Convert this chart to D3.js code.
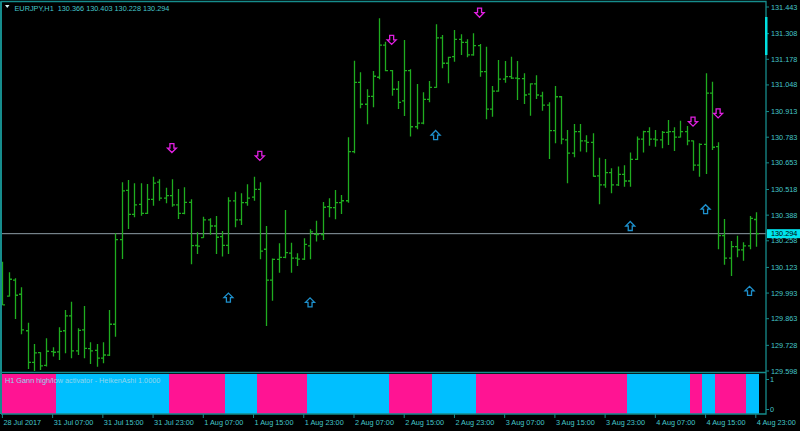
<!DOCTYPE html>
<html><head><meta charset="utf-8">
<script src="https://cdn.jsdelivr.net/npm/d3@7"></script>
<style>html,body{margin:0;padding:0;background:#000;overflow:hidden}svg{display:block}</style>
</head><body><svg id="c" width="800" height="431"></svg>
<script>
// ---------- data ----------
const symbol = "EURJPY,H1";
const lastQuote = ["130.366","130.403","130.228","130.294"];
const bidPrice = 130.294;

const opens = [130.136,129.978,130.059,129.987,129.802,129.642,129.691,129.627,129.696,129.695,
129.802,129.877,129.700,129.806,129.711,129.703,129.663,129.678,129.835,130.264,
130.514,130.392,130.443,130.397,130.468,130.555,130.474,130.487,130.440,130.397,
130.453,130.234,130.274,130.364,130.333,130.279,130.235,130.460,130.364,130.451,
130.479,130.519,130.215,130.059,130.164,130.174,130.195,130.170,130.165,130.232,
130.291,130.290,130.431,130.426,130.451,130.461,130.710,131.061,130.950,130.990,
131.087,131.250,131.120,131.026,130.967,131.120,130.836,130.854,130.975,131.036,
131.287,131.158,131.191,131.279,131.264,131.200,131.247,131.115,130.925,131.017,
131.077,131.090,131.082,131.080,131.001,131.053,130.993,130.946,130.816,130.988,
130.769,130.702,130.811,130.764,130.757,130.587,130.541,130.603,130.541,130.595,
130.561,130.671,130.773,130.811,130.773,130.769,130.808,130.811,130.783,130.811,
130.764,130.642,130.747,131.006,130.735,130.284,130.170,130.228,130.212,130.232,
130.366];
const highs = [130.152,130.098,130.068,130.022,129.843,129.735,129.693,129.764,129.718,129.820,
129.907,129.949,129.815,129.928,129.744,129.735,129.744,129.907,130.296,130.555,
130.566,130.550,130.550,130.546,130.583,130.570,130.527,130.570,130.521,130.529,
130.468,130.301,130.380,130.372,130.384,130.308,130.479,130.507,130.499,130.544,
130.583,130.555,130.333,130.168,130.245,130.414,130.248,130.195,130.271,130.316,
130.360,130.455,130.474,130.516,130.490,130.783,131.171,131.112,131.026,131.119,
131.386,131.267,131.124,131.068,131.276,131.127,131.053,131.011,131.068,131.355,
131.301,131.191,131.326,131.305,131.279,131.310,131.256,131.242,131.043,131.174,
131.169,131.191,131.169,131.107,131.056,131.097,131.014,130.960,131.043,130.992,
130.820,130.850,130.850,130.793,130.803,130.679,130.673,130.626,130.634,130.641,
130.705,130.786,130.816,130.833,130.820,130.815,130.870,130.833,130.867,130.840,
130.766,130.752,131.107,131.064,130.757,130.369,130.257,130.284,130.251,130.384,
130.403];
const lows = [129.933,129.975,129.862,129.784,129.608,129.598,129.603,129.621,129.671,129.654,
129.688,129.663,129.679,129.663,129.634,129.620,129.637,129.674,129.772,130.166,
130.318,130.377,130.385,130.394,130.436,130.461,130.448,130.431,130.369,130.392,
130.139,130.191,130.274,130.288,130.191,130.178,130.191,130.327,130.338,130.435,
130.461,130.164,129.826,129.954,130.096,130.169,130.096,130.130,130.161,130.164,
130.254,130.262,130.377,130.367,130.394,130.451,130.702,130.930,130.849,130.935,
131.077,131.117,130.993,130.926,130.891,130.786,130.823,130.849,130.960,131.034,
131.132,131.056,131.166,131.200,131.188,131.196,131.090,130.874,130.887,131.014,
131.059,131.078,130.972,130.951,130.892,130.977,130.917,130.673,130.752,130.747,
130.550,130.681,130.710,130.707,130.583,130.443,130.527,130.499,130.536,130.532,
130.532,130.668,130.705,130.740,130.735,130.727,130.744,130.713,130.781,130.742,
130.613,130.583,130.597,130.718,130.215,130.136,130.080,130.174,130.157,130.215,
130.228];
const closes = [129.933,130.063,129.982,129.806,129.642,129.690,129.624,129.698,129.693,129.799,
129.877,129.700,129.804,129.713,129.700,129.663,129.679,129.835,130.264,130.511,
130.392,130.440,130.397,130.468,130.550,130.474,130.487,130.440,130.397,130.453,
130.233,130.231,130.364,130.333,130.276,130.235,130.460,130.364,130.451,130.474,
130.519,130.206,130.059,130.164,130.174,130.198,130.170,130.165,130.240,130.303,
130.290,130.428,130.426,130.451,130.461,130.710,131.061,130.950,130.990,131.092,
131.250,131.120,131.026,130.960,131.120,130.836,130.854,130.975,131.036,131.287,
131.158,131.188,131.279,131.264,131.200,131.247,131.115,130.925,131.017,131.077,
131.090,131.082,131.080,130.997,131.053,130.997,130.946,130.816,130.988,130.773,
130.702,130.811,130.764,130.757,130.585,130.541,130.603,130.541,130.595,130.561,
130.671,130.773,130.811,130.773,130.769,130.808,130.811,130.783,130.811,130.764,
130.642,130.747,131.006,130.732,130.284,130.170,130.228,130.212,130.232,130.372,
130.294];

// Gann high/low activator state per bar: D = bearish (pink), U = bullish (blue)
const indState = ("DDDDDDDDD" + "UUUUUUUUUUUUUUUUUU" + "DDDDDDDDD" + "UUUUU" + "DDDDDDDD" +
  "UUUUUUUUUUUUU" + "DDDDDDD" + "UUUUUUU" + "DDDDDDDDDDDDDDDDDDDDDDDD" + "UUUUUUUUUU" +
  "DD" + "UU" + "DDDDD" + "UU").split("");

const downArrowBars   = [27, 41, 62, 76, 110, 114];
const downArrowPrices = [130.728, 130.688, 131.276, 131.414, 130.862, 130.904];
const upArrowBars     = [36, 49, 69, 100, 112, 119];
const upArrowPrices   = [129.970, 129.946, 130.794, 130.333, 130.418, 130.004];

const priceTicks = ["131.443","131.308","131.178","131.048","130.913","130.783","130.653","130.518",
  "130.388","130.258","130.123","129.993","129.863","129.728","129.598"];
const timeTickBars = [0,8,16,24,32,40,48,56,64,72,80,88,96,104,112,120];
const timeTickLabels = ["28 Jul 2017","31 Jul 07:00","31 Jul 15:00","31 Jul 23:00","1 Aug 07:00",
  "1 Aug 15:00","1 Aug 23:00","2 Aug 07:00","2 Aug 15:00","2 Aug 23:00","3 Aug 07:00",
  "3 Aug 15:00","3 Aug 23:00","4 Aug 07:00","4 Aug 15:00","4 Aug 23:00"];
const indLabel = "H1 Gann high/low activator - HeikenAshi 1.0000";
const indTicks = [1, 0];
const indWindow = [-0.15, 1.18];

// ---------- layout / style ----------
const L = 1, R = 766, mainTop = 1.5, mainBot = 372, indTop = 372.5, indBot = 414;
const COL = {frame:"#168c8c", text:"#44c6ca", bar:"#1fac1f", bid:"#8e9ea6",
  pink:"#ff1493", blue:"#00bfff", down:"#e020e0", up:"#1e90cc", indText:"#8fd6ee"};
const FONT = "Liberation Sans, Arial, sans-serif", FS = 7.3;

const svg = d3.select("#c");
svg.append("rect").attr("width",800).attr("height",431).attr("fill","#000");

const n = opens.length;
const x = d3.scaleLinear().domain([0, n-1]).range([2.4, 755.8]);
const y = d3.scaleLinear().domain([+priceTicks[priceTicks.length-1], +priceTicks[0]]).range([371, 7]);
const yInd = d3.scaleLinear().domain([0,1]).range([409.5, 379.5]);
const step = x(1) - x(0);

const defs = svg.append("defs");
defs.append("clipPath").attr("id","cm").append("rect")
  .attr("x",L).attr("y",mainTop).attr("width",R-L).attr("height",mainBot-mainTop);
defs.append("clipPath").attr("id","ci").append("rect")
  .attr("x",L+1).attr("y",indTop).attr("width",R-L-1).attr("height",indBot-indTop);

// indicator histogram
const gi = svg.append("g").attr("clip-path","url(#ci)").attr("shape-rendering","crispEdges");
gi.selectAll("rect").data(indState).join("rect")
  .attr("x",(d,i)=>Math.round(x(i)-step/2)).attr("width",(d,i)=>Math.round(x(i)+step/2)-Math.round(x(i)-step/2))
  .attr("y",yInd(indWindow[1])).attr("height",yInd(indWindow[0])-yInd(indWindow[1]))
  .attr("fill",d=>d==="D"?COL.pink:COL.blue);
svg.append("text").attr("x",5).attr("y",383).attr("font-family",FONT).attr("font-size",FS)
  .attr("fill",COL.indText).text(indLabel);

// main panel
const gm = svg.append("g").attr("clip-path","url(#cm)");
gm.append("line").attr("x1",L).attr("x2",R).attr("y1",y(bidPrice)).attr("y2",y(bidPrice))
  .attr("stroke",COL.bid).attr("stroke-width",1);

const idx = d3.range(n);
const gb = gm.append("g").attr("stroke",COL.bar).attr("stroke-width",1.3).attr("fill","none");
gb.selectAll("path").data(idx).join("path")
  .attr("d", i => {
    const cx = Math.round(x(i)) + 0.5;
    return `M${cx},${y(highs[i])}V${y(lows[i])}` +
      `M${cx-2.5},${y(opens[i])}H${cx}` +
      `M${cx},${y(closes[i])}H${cx+2.5}`;
  });

const downPath = "M-2,-4.5H2V0H4.5L0,4.5L-4.5,0H-2Z";
const upPath = "M-2,4.5H2V0H4.5L0,-4.5L-4.5,0H-2Z";
gm.selectAll("path.dn").data(downArrowBars).join("path").attr("class","dn")
  .attr("transform",(b,k)=>`translate(${x(b)},${y(downArrowPrices[k])})`)
  .attr("d",downPath).attr("fill","none").attr("stroke",COL.down).attr("stroke-width",1.3);
gm.selectAll("path.upa").data(upArrowBars).join("path").attr("class","upa")
  .attr("transform",(b,k)=>`translate(${x(b)},${y(upArrowPrices[k])})`)
  .attr("d",upPath).attr("fill","none").attr("stroke",COL.up).attr("stroke-width",1.3);

// frames
const fr = svg.append("g").attr("stroke",COL.frame).attr("fill","none");
fr.append("path").attr("d",`M${L},${indBot}V${mainTop}H${R}V${indBot}H${L}`).attr("stroke-width",1.3);
fr.append("line").attr("x1",L).attr("x2",R).attr("y1",indTop).attr("y2",indTop).attr("stroke-width",1.5);
fr.append("line").attr("x1",1).attr("x2",1).attr("y1",mainTop).attr("y2",indBot).attr("stroke-width",2);

// header
svg.append("path").attr("d","M5,5H9.5L7.25,8Z").attr("fill","#d8f4f4");
svg.append("text").attr("x",14.5).attr("y",10.5).attr("font-family",FONT).attr("font-size",FS)
  .attr("fill",COL.text).style("white-space","pre")
  .text(symbol + "  " + lastQuote.join(" "));

// price axis
const ga = svg.append("g");
ga.selectAll("line").data(priceTicks).join("line")
  .attr("x1",R).attr("x2",R+3).attr("y1",d=>y(+d)).attr("y2",d=>y(+d))
  .attr("stroke",COL.frame);
ga.selectAll("text").data(priceTicks).join("text")
  .attr("x",R+5).attr("y",d=>y(+d)).attr("dy","0.35em")
  .attr("font-family",FONT).attr("font-size",FS).attr("fill",COL.text).text(d=>d);

// current price tag
svg.append("rect").attr("x",R+1).attr("y",y(bidPrice)-4.5).attr("width",34).attr("height",9)
  .attr("fill","#00e5ee");
svg.append("text").attr("x",R+5).attr("y",y(bidPrice)).attr("dy","0.35em")
  .attr("font-family",FONT).attr("font-size",FS).attr("fill","#000").text(bidPrice.toFixed(3));
// chart-shift marker
svg.append("rect").attr("x",R-1).attr("y",17).attr("width",2.5).attr("height",38).attr("fill","#00e0e0");

// indicator axis
const gk = svg.append("g");
gk.selectAll("line").data(indTicks).join("line")
  .attr("x1",R).attr("x2",R+3).attr("y1",d=>yInd(d)).attr("y2",d=>yInd(d)).attr("stroke",COL.frame);
gk.selectAll("text").data(indTicks).join("text")
  .attr("x",R+4).attr("y",d=>yInd(d)).attr("dy","0.35em")
  .attr("font-family",FONT).attr("font-size",FS).attr("fill",COL.text).text(d=>d);

// time axis
const gt = svg.append("g");
gt.selectAll("line").data(timeTickBars).join("line")
  .attr("x1",b=>x(b)).attr("x2",b=>x(b)).attr("y1",indBot).attr("y2",indBot+4)
  .attr("stroke",COL.frame);
gt.selectAll("text").data(timeTickBars).join("text")
  .attr("x",b=>x(b)+1).attr("y",424.5)
  .attr("font-family",FONT).attr("font-size",FS).attr("fill",COL.text)
  .text((b,k)=>timeTickLabels[k]);
</script></body></html>
